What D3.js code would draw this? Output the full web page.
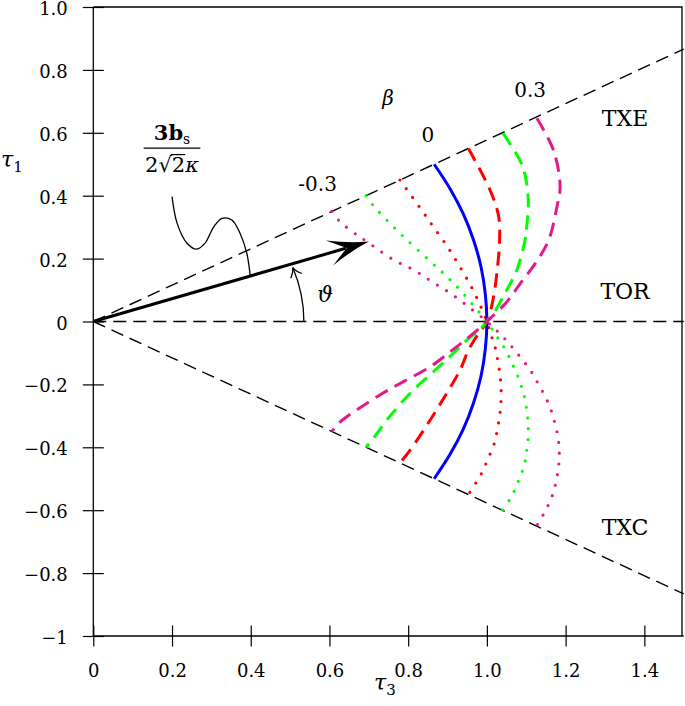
<!DOCTYPE html>
<html>
<head>
<meta charset="utf-8">
<script src="https://cdn.jsdelivr.net/npm/d3@7/dist/d3.min.js"></script>
<style>
body { margin: 0; background: #fff; }
svg text { font-family: "DejaVu Serif", serif; fill: #000; }
</style>
</head>
<body>
<div id="chart"></div>
<script>
// tick values and labels
var xTicks = [0, 0.2, 0.4, 0.6, 0.8, 1.0, 1.2, 1.4];
var xTickLabels = ["0", "0.2", "0.4", "0.6", "0.8", "1.0", "1.2", "1.4"];
var yTicks = [-1, -0.8, -0.6, -0.4, -0.2, 0, 0.2, 0.4, 0.6, 0.8, 1.0];
var yTickLabels = ["\u22121", "\u22120.8", "\u22120.6", "\u22120.4", "\u22120.2", "0", "0.2", "0.4", "0.6", "0.8", "1.0"];

// beta values of the curves (tau3, tau1 points)
var betas = [-0.3, -0.2, -0.1, 0, 0.1, 0.2, 0.3];

var curveBetaM03 = [[0.606,0.350],[0.627,0.317],[0.670,0.275],[0.695,0.254],[0.763,0.196],[0.814,0.164],[0.860,0.127],[0.907,0.090],[0.953,0.047],[1.0,0],
  [1.019,-0.022],[1.038,-0.045],[1.057,-0.071],[1.075,-0.098],[1.093,-0.126],[1.110,-0.154],[1.124,-0.184],[1.138,-0.215],[1.151,-0.246],[1.162,-0.278],
  [1.170,-0.311],[1.177,-0.345],[1.182,-0.380],[1.184,-0.416],[1.183,-0.451],[1.179,-0.486],[1.174,-0.519],[1.166,-0.554],[1.155,-0.586],[1.142,-0.617],[1.126,-0.650]];
var curveBetaM02 = [[0.693,0.400],[0.712,0.368],[0.750,0.317],[0.792,0.265],[0.852,0.196],[0.894,0.148],[0.932,0.100],[0.970,0.045],[1.0,0],
  [1.021,-0.040],[1.036,-0.067],[1.051,-0.099],[1.063,-0.131],[1.075,-0.163],[1.085,-0.196],[1.093,-0.228],[1.099,-0.264],[1.103,-0.298],[1.105,-0.332],
  [1.105,-0.368],[1.102,-0.403],[1.098,-0.438],[1.091,-0.472],[1.081,-0.504],[1.070,-0.537],[1.057,-0.568],[1.039,-0.600]];
var curveBetaM01 = [[0.779,0.450],[0.831,0.360],[0.864,0.301],[0.897,0.243],[0.926,0.185],[0.955,0.123],[0.980,0.060],[1.0,0],
  [1.010,-0.041],[1.019,-0.073],[1.025,-0.107],[1.030,-0.141],[1.034,-0.180],[1.036,-0.214],[1.036,-0.250],[1.034,-0.285],[1.030,-0.320],
  [1.025,-0.354],[1.019,-0.387],[1.008,-0.422],[0.997,-0.454],[0.985,-0.486],[0.970,-0.517],[0.953,-0.550]];
var curveBeta0 = [[0.866,0.500],[0.906,0.423],[0.940,0.342],[0.966,0.259],[0.985,0.174],[0.996,0.087],[1.0,0],
  [0.996,-0.087],[0.985,-0.174],[0.966,-0.259],[0.940,-0.342],[0.906,-0.423],[0.866,-0.500]];
var curveBetaP01 = [[0.953,0.550],[1.008,0.418],[1.030,0.333],[1.032,0.249],[1.027,0.174],[1.017,0.079],[1.0,0],
  [0.975,-0.045],[0.953,-0.091],[0.932,-0.154],[0.898,-0.228],[0.856,-0.313],[0.805,-0.409],[0.779,-0.450]];
var curveBetaP02 = [[1.041,0.598],[1.090,0.495],[1.105,0.390],[1.101,0.300],[1.097,0.259],[1.076,0.164],[1.046,0.090],[1.017,0.026],[1.0,0],
  [0.978,-0.030],[0.949,-0.059],[0.915,-0.101],[0.864,-0.160],[0.805,-0.228],[0.746,-0.313],[0.712,-0.371],[0.693,-0.400]];
var curveBetaP03 = [[1.127,0.646],[1.169,0.545],[1.186,0.429],[1.178,0.365],[1.157,0.259],[1.123,0.185],[1.085,0.121],[1.051,0.063],[1.0,0],
  [0.945,-0.059],[0.907,-0.096],[0.856,-0.144],[0.788,-0.191],[0.721,-0.239],[0.644,-0.303],[0.623,-0.324],[0.606,-0.350]];

var curves = [curveBetaM03, curveBetaM02, curveBetaM01, curveBeta0, curveBetaP01, curveBetaP02, curveBetaP03];
var curveColors = ["#e5198a", "#00ff00", "#ff0000", "#0000ff", "#ff0000", "#00ff00", "#e5198a"];
var curveKinds = ["dot", "dot", "dot", "solid", "dash", "dash", "dash"];

// TXE / TOR / TXC reference lines
var refLines = [[[0, 0], [1.5, 0.866]], [[0, 0], [1.5, 0]], [[0, 0], [1.5, -0.866]]];
var refLabels = ["TXE", "TOR", "TXC"];
var refLabelPos = [[1.351, 0.622], [1.351, 0.0715], [1.351, -0.679]];

// beta labels
var betaLabels = ["\u03b2", "0", "0.3", "-0.3"];
var betaLabelPos = [[0.749, 0.688], [0.850, 0.572], [1.110, 0.714], [0.570, 0.416]];

// vector and Lode angle annotation
var arrowTip = [0.700, 0.254];
var arcRadius = 0.535;
var arcEndDeg = 18.7;
var leader = [[0.200,0.397],[0.213,0.312],[0.238,0.249],[0.263,0.230],[0.284,0.249],[0.306,0.301],[0.327,0.328],[0.352,0.323],[0.373,0.280],[0.390,0.217],[0.399,0.142]];

var width = 685, height = 706;
var svg = d3.select('#chart').append('svg').attr('width', width).attr('height', height);

var x = d3.scaleLinear().domain([0, 1.5]).range([93.3, 683.7]);
var y = d3.scaleLinear().domain([-1, 1]).range([636, 7]);

// frame
svg.append('path')
  .attr('d', 'M' + x(0) + ',' + y(1) + 'H682V' + y(-1))
  .attr('fill', 'none').attr('stroke', '#000').attr('stroke-width', 1.3);

// axes with ticks crossing the axis line
var xAxis = svg.append('g')
  .attr('transform', 'translate(0,' + y(-1) + ')')
  .call(d3.axisBottom(x).tickValues(xTicks).tickSize(10.5).tickPadding(18)
    .tickFormat(function (d, i) { return xTickLabels[i]; }));
var yAxis = svg.append('g')
  .attr('transform', 'translate(' + x(0) + ',0)')
  .call(d3.axisLeft(y).tickValues(yTicks).tickSize(10.5).tickPadding(15)
    .tickFormat(function (d, i) { return yTickLabels[i]; }));
[xAxis, yAxis].forEach(function (g) {
  g.select('.domain').attr('stroke-width', 1.3).attr('d', null);
  g.selectAll('.tick line').attr('stroke-width', 1.2);
  g.selectAll('.tick text').attr('font-size', 18).attr('font-family', '"DejaVu Serif", serif');
});
xAxis.select('.domain').remove();
yAxis.select('.domain').remove();
xAxis.selectAll('.tick').append('line').attr('y2', -10.5).attr('stroke', '#000').attr('stroke-width', 1.2);
yAxis.selectAll('.tick').append('line').attr('x2', 10.5).attr('stroke', '#000').attr('stroke-width', 1.2);
yAxis.selectAll('.tick text').attr('dy', '0.42em');
svg.append('line').attr('x1', x(0)).attr('x2', x(1.5)).attr('y1', y(-1)).attr('y2', y(-1))
  .attr('stroke', '#000').attr('stroke-width', 1.3);
svg.append('line').attr('x1', x(0)).attr('x2', x(0)).attr('y1', y(-1)).attr('y2', y(1))
  .attr('stroke', '#000').attr('stroke-width', 1.3);

// axis titles
var t1 = svg.append('text').attr('x', 1).attr('y', 167).attr('font-size', 22);
t1.append('tspan').attr('font-style', 'italic').text('\u03c4');
t1.append('tspan').attr('font-size', 15).attr('dy', 5).text('1');
var t3 = svg.append('text').attr('x', 374).attr('y', 690).attr('font-size', 22);
t3.append('tspan').attr('font-style', 'italic').text('\u03c4');
t3.append('tspan').attr('font-size', 15).attr('dy', 5).text('3');

var line = d3.line().x(function (d) { return x(d[0]); }).y(function (d) { return y(d[1]); });

// reference lines
svg.append('g').selectAll('path')
  .data(refLines)
  .enter()
  .append('path')
  .attr('d', line)
  .attr('fill', 'none').attr('stroke', '#000').attr('stroke-width', 1.4)
  .attr('stroke-dasharray', '13,7');

svg.append('g').selectAll('text')
  .data(refLabels)
  .enter()
  .append('text')
  .attr('x', function (d, i) { return x(refLabelPos[i][0]); })
  .attr('y', function (d, i) { return y(refLabelPos[i][1]); })
  .attr('text-anchor', 'middle').attr('font-size', 22)
  .text(function (d) { return d; });

// curves for each beta
var smooth = d3.line().curve(d3.curveCatmullRom.alpha(0.5))
  .x(function (d) { return x(d[0]); }).y(function (d) { return y(d[1]); });

svg.append('g').selectAll('path')
  .data(curves)
  .enter()
  .append('path')
  .attr('d', smooth)
  .attr('fill', 'none')
  .attr('stroke', function (d, i) { return curveColors[i]; })
  .attr('stroke-width', function (d, i) { return curveKinds[i] === 'dot' ? 3.2 : 3; })
  .attr('stroke-linecap', function (d, i) { return curveKinds[i] === 'dot' ? 'round' : 'butt'; })
  .attr('stroke-dasharray', function (d, i) {
    return curveKinds[i] === 'dot' ? '0,10.8' : (curveKinds[i] === 'dash' ? '14,8' : null);
  });

svg.append('g').selectAll('text')
  .data(betaLabels)
  .enter()
  .append('text')
  .attr('x', function (d, i) { return x(betaLabelPos[i][0]); })
  .attr('y', function (d, i) { return y(betaLabelPos[i][1]); })
  .attr('text-anchor', 'middle').attr('font-size', 20)
  .attr('font-style', function (d, i) { return i === 0 ? 'italic' : null; })
  .text(function (d) { return d; });

// thick vector with stealth head
var x0 = x(0), y0 = y(0), xt = x(arrowTip[0]), yt = y(arrowTip[1]);
var ang = Math.atan2(yt - y0, xt - x0);
svg.append('line')
  .attr('x1', x0).attr('y1', y0)
  .attr('x2', xt - 24 * Math.cos(ang)).attr('y2', yt - 24 * Math.sin(ang))
  .attr('stroke', '#000').attr('stroke-width', 3);
svg.append('path')
  .attr('d', 'M0,0Q-20,-4 -41,-13L-23,0L-41,13Q-20,4 0,0Z')
  .attr('transform', 'translate(' + xt + ',' + yt + ') rotate(' + (ang * 180 / Math.PI) + ')')
  .attr('fill', '#000');

// lode angle arc
var rx = x(arcRadius) - x(0), ry = y(0) - y(arcRadius);
var a1 = arcEndDeg * Math.PI / 180;
var ex = x(arcRadius * Math.cos(a1)), ey = y(arcRadius * Math.sin(a1));
svg.append('path')
  .attr('d', 'M' + x(arcRadius) + ',' + y(0) + 'A' + rx + ',' + ry + ' 0 0 0 ' + ex + ',' + ey)
  .attr('fill', 'none').attr('stroke', '#000').attr('stroke-width', 1.3);
var tang = Math.atan2(-ry * Math.cos(a1), -rx * Math.sin(a1));
svg.append('path')
  .attr('d', 'M-9,-6Q-4,-1 0,0Q-4,1 -9,6')
  .attr('transform', 'translate(' + ex + ',' + ey + ') rotate(' + (tang * 180 / Math.PI) + ')')
  .attr('fill', 'none').attr('stroke', '#000').attr('stroke-width', 1.3);
svg.append('text')
  .attr('x', x(0.589)).attr('y', y(0.063))
  .attr('text-anchor', 'middle').attr('font-size', 22).attr('font-style', 'italic')
  .text('\u03d1');

// leader curve to the vector
svg.append('path')
  .attr('d', smooth(leader))
  .attr('fill', 'none').attr('stroke', '#000').attr('stroke-width', 1.3);

// fraction label 3b_s / (2 sqrt2 kappa)
var fx = x(0.200);
var num = svg.append('text').attr('x', fx).attr('y', y(0.576)).attr('text-anchor', 'middle').attr('font-size', 21);
num.append('tspan').attr('font-weight', 'bold').text('3b');
num.append('tspan').attr('font-size', 14).attr('dy', 4).text('s');
svg.append('line')
  .attr('x1', x(0.128)).attr('x2', x(0.272)).attr('y1', y(0.551)).attr('y2', y(0.551))
  .attr('stroke', '#000').attr('stroke-width', 1.2);
var den = svg.append('text').attr('x', fx).attr('y', y(0.475)).attr('text-anchor', 'middle').attr('font-size', 21);
den.append('tspan').text('2\u221a2');
den.append('tspan').attr('font-style', 'italic').text('\u03ba');
var rad = den.node().getExtentOfChar(1);
var two = den.node().getExtentOfChar(2);
svg.append('line')
  .attr('x1', rad.x + rad.width - 1).attr('x2', two.x + two.width)
  .attr('y1', rad.y + 1.5).attr('y2', rad.y + 1.5)
  .attr('stroke', '#000').attr('stroke-width', 1.2);
</script>
</body>
</html>
